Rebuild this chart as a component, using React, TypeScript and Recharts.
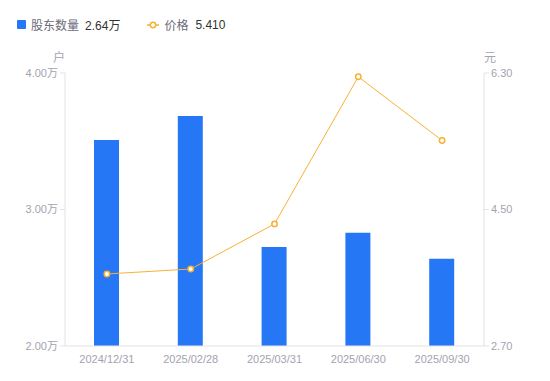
import React from 'react';
import { ComposedChart, Bar, Line, XAxis, YAxis } from 'recharts';

// 报告期
const dates = ['2024/12/31', '2025/02/28', '2025/03/31', '2025/06/30', '2025/09/30'];
// 股东数量 (万户)
const holders = [3.51, 3.685, 2.725, 2.83, 2.64];
// 价格 (元)
const prices = [3.65, 3.715, 4.31, 6.25, 5.41];

const leftTicks = [2, 3, 4];
const rightTicks = [2.7, 4.5, 6.3];

const BLUE = '#2677f5';
const ORANGE = '#f8b133';
const FONT = 'Arial, "Liberation Sans", "Noto Sans CJK SC", sans-serif';

const data = dates.map((d, i) => ({ date: d, holders: holders[i], price: prices[i] }));

const axisTick = { fill: '#a3a3b0', fontSize: 11, fontFamily: FONT };
const axisLine = { stroke: '#e3e3e6' };

const App = () => {
  const last = data.length - 1;
  return (
    <div style={{ position: 'absolute', left: 0, top: 0, width: 550, height: 381, background: '#fff', fontFamily: FONT }}>
      {/* legend */}
      <div style={{ position: 'absolute', left: 17, top: 16, display: 'flex', alignItems: 'center', fontSize: 12, height: 17 }}>
        <span style={{ width: 9, height: 9, background: BLUE, borderRadius: 1, display: 'inline-block' }} />
        <span style={{ color: '#6b6b78', marginLeft: 5 }}>股东数量</span>
        <span style={{ color: '#333', marginLeft: 6 }}>{holders[last].toFixed(2)}万</span>
        <svg width={12} height={10} style={{ marginLeft: 27 }}>
          <line x1={0} y1={5} x2={12} y2={5} stroke={ORANGE} strokeWidth={1.5} />
          <circle cx={6} cy={5} r={2.7} fill="#fff" stroke={ORANGE} strokeWidth={1.5} />
        </svg>
        <span style={{ color: '#6b6b78', marginLeft: 5 }}>价格</span>
        <span style={{ color: '#333', marginLeft: 7 }}>{prices[last].toFixed(3)}</span>
      </div>
      <ComposedChart width={550} height={381} data={data} margin={{ top: 73, right: 0, bottom: 10, left: 0 }}>
        <XAxis dataKey="date" axisLine={axisLine} tickLine={false} tick={axisTick} tickMargin={3} height={25} interval={0} />
        <YAxis
          yAxisId="left"
          width={65}
          domain={[2, 4]}
          ticks={leftTicks}
          tickFormatter={(v: number) => `${v.toFixed(2)}万`}
          axisLine={axisLine}
          tickLine={axisLine}
          tickSize={5}
          tick={axisTick}
          label={{
            content: ({ viewBox }: any) => (
              <text x={viewBox.x + viewBox.width - 6} y={viewBox.y - 11} textAnchor="middle" fill="#a3a3b0" fontSize={12} fontFamily={FONT}>户</text>
            ),
          }}
        />
        <YAxis
          yAxisId="right"
          orientation="right"
          width={66}
          domain={[2.7, 6.3]}
          ticks={rightTicks}
          tickFormatter={(v: number) => v.toFixed(2)}
          axisLine={axisLine}
          tickLine={axisLine}
          tickSize={5}
          tick={axisTick}
          label={{
            content: ({ viewBox }: any) => (
              <text x={viewBox.x + 6} y={viewBox.y - 11} textAnchor="middle" fill="#a3a3b0" fontSize={12} fontFamily={FONT}>元</text>
            ),
          }}
        />
        <Bar yAxisId="left" dataKey="holders" fill={BLUE} barSize={25} isAnimationActive={false} />
        <Line
          yAxisId="right"
          dataKey="price"
          type="linear"
          stroke={ORANGE}
          strokeWidth={1}
          dot={{ r: 2.7, fill: '#fff', stroke: ORANGE, strokeWidth: 1.5 }}
          isAnimationActive={false}
        />
      </ComposedChart>
    </div>
  );
};

export default App;
